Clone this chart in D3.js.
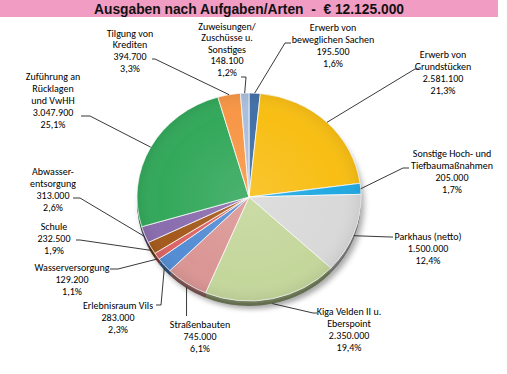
<!DOCTYPE html>
<html>
<head>
<meta charset="utf-8">
<script src="https://cdn.jsdelivr.net/npm/d3@7"></script>
<style>
  html, body { margin: 0; padding: 0; background: #fff; }
  svg { display: block; }
  .lbl { font-family: Carlito, Lato, "Noto Sans", sans-serif; font-size: 10px; fill: #000; }
</style>
</head>
<body>
<svg id="chart" width="507" height="374"></svg>
<script>
// ---- data ----
const title = "Ausgaben nach Aufgaben/Arten  -  € 12.125.000";
const categories = [
  "Erwerb von\nbeweglichen Sachen",
  "Erwerb von\nGrundstücken",
  "Sonstige Hoch- und\nTiefbaumaßnahmen",
  "Parkhaus (netto)",
  "Kiga Velden II u.\nEberspoint",
  "Straßenbauten",
  "Erlebnisraum Vils",
  "Wasserversorgung",
  "Schule",
  "Abwasser-\nentsorgung",
  "Zuführung an\nRücklagen\nund VwHH",
  "Tilgung von\nKrediten",
  "Zuweisungen/\nZuschüsse u.\nSonstiges"
];
const values = [195500, 2581100, 205000, 1500000, 2350000, 745000, 283000, 129200, 232500, 313000, 3047900, 394700, 148100];
const colors = ["#4270A7", "#F8BE14", "#22A9E2", "#D9D9D9", "#C4D79B", "#DA9694", "#548DD4", "#DC6464", "#A45A1C", "#8A6DAE", "#33A85B", "#F79646", "#AABEDD"];

// ---- layout (label placement, not data) ----
const labelLayout = [
  {x: 333, y: 27,  step: 12,   elbow: [285, 43],  end: [291, 43]},
  {x: 443, y: 54,  step: 12,   elbow: [415, 69],  end: [419, 69]},
  {x: 452, y: 153, step: 12.3, elbow: [403, 168], end: [409, 168]},
  {x: 428, y: 236, step: 12,   elbow: [390, 237], end: [393, 237]},
  {x: 349, y: 311, step: 12.2, elbow: [313, 313], end: [317, 313]},
  {x: 200, y: 324, step: 12,   elbow: null,       end: [null, 316]},
  {x: 118, y: 305, step: 12,   elbow: [161, 305], end: [156, 305]},
  {x: 72,  y: 267, step: 12.3, elbow: [118, 269], end: [110, 269]},
  {x: 54,  y: 226, step: 12,   elbow: [80, 240],  end: [76, 240]},
  {x: 53,  y: 171, step: 12,   elbow: [80, 198],  end: [73, 198]},
  {x: 53,  y: 76,  step: 12.2, elbow: [90, 116],  end: [81, 116]},
  {x: 130, y: 33,  step: 11.7, elbow: [155, 59],  end: [152, 59]},
  {x: 227, y: 26,  step: 11.5, elbow: [246, 77],  end: [241, 77]}
];

const cx = 249, cy = 197, rx = 112, ry = 104, depth = 5;

const svg = d3.select("#chart");
const defs = svg.append("defs");
const f = defs.append("filter").attr("id", "shadow").attr("x", "-20%").attr("y", "-20%").attr("width", "140%").attr("height", "140%");
f.append("feGaussianBlur").attr("in", "SourceAlpha").attr("stdDeviation", 3);
f.append("feOffset").attr("dx", 3).attr("dy", 3).attr("result", "b");
f.append("feComponentTransfer").append("feFuncA").attr("type", "linear").attr("slope", 0.35);
const fm = f.append("feMerge");
fm.append("feMergeNode");
fm.append("feMergeNode").attr("in", "SourceGraphic");

const rg = defs.append("radialGradient").attr("id", "shine").attr("cx", "50%").attr("cy", "50%").attr("r", "50%");
rg.append("stop").attr("offset", "0%").attr("stop-color", "#fff").attr("stop-opacity", 0.12);
rg.append("stop").attr("offset", "80%").attr("stop-color", "#fff").attr("stop-opacity", 0.0);
rg.append("stop").attr("offset", "100%").attr("stop-color", "#000").attr("stop-opacity", 0.06);

// title bar
svg.append("rect").attr("x", 0).attr("y", 0).attr("width", 498).attr("height", 17).attr("fill", "#F19CC2");
svg.append("text").attr("x", 249).attr("y", 13.8).attr("text-anchor", "middle")
  .attr("xml:space", "preserve").style("white-space", "pre")
  .style("font-family", "'Liberation Sans', Arial, sans-serif").style("font-weight", "bold").style("font-size", "13.8px")
  .attr("fill", "#111").text(title);

const total = d3.sum(values);
const loc = d3.formatLocale({decimal: ",", thousands: ".", grouping: [3], currency: ["", "€"]});
const fmtV = loc.format(",d");
const fmtP = loc.format(".1f");

const pie = d3.pie().sort(null).value(d => d).startAngle(0).endAngle(2 * Math.PI);
const arcs = pie(values);
const arc = d3.arc().innerRadius(0).outerRadius(rx);

// depth layer
const gDepth = svg.append("g").attr("filter", "url(#shadow)")
  .attr("transform", `translate(${cx},${cy + depth}) scale(1,${ry / rx})`);
gDepth.selectAll("path").data(arcs).join("path")
  .attr("d", arc).attr("fill", (d, i) => d3.color(colors[i]).darker(1.9));
const gMid = svg.append("g").attr("transform", `translate(${cx},${cy + depth / 2}) scale(1,${ry / rx})`);
gMid.selectAll("path").data(arcs).join("path")
  .attr("d", arc).attr("fill", (d, i) => d3.color(colors[i]).darker(1.6));

// top layer
const gTop = svg.append("g").attr("transform", `translate(${cx},${cy}) scale(1,${ry / rx})`);
gTop.selectAll("path").data(arcs).join("path")
  .attr("d", arc).attr("fill", (d, i) => colors[i])
  .attr("stroke", "#fff").attr("stroke-width", 0.8).attr("vector-effect", "non-scaling-stroke");
gTop.append("circle").attr("r", rx).attr("fill", "url(#shine)");

// leader lines
const gLines = svg.append("g");
arcs.forEach((d, i) => {
  const a = (d.startAngle + d.endAngle) / 2;
  const sx = cx + rx * Math.sin(a);
  let sy = cy - ry * Math.cos(a);
  if (Math.cos(a) < 0) sy += depth * (-Math.cos(a));
  const L = labelLayout[i];
  const pts = [[sx, sy]];
  if (L.elbow) pts.push(L.elbow);
  pts.push([L.end[0] == null ? sx : L.end[0], L.end[1]]);
  gLines.append("path").attr("d", d3.line()(pts))
    .attr("fill", "none").attr("stroke", "#222").attr("stroke-width", 0.9);
});

// labels
const gLab = svg.append("g");
arcs.forEach((d, i) => {
  const L = labelLayout[i];
  const lines = categories[i].split("\n").concat([fmtV(values[i]), fmtP(values[i] / total * 100) + "%"]);
  const t = gLab.append("text").attr("class", "lbl").attr("text-anchor", "middle");
  lines.forEach((s, k) => {
    t.append("tspan").attr("x", L.x).attr("y", L.y + k * L.step + 3.5).text(s);
  });
});
</script>
</body>
</html>
